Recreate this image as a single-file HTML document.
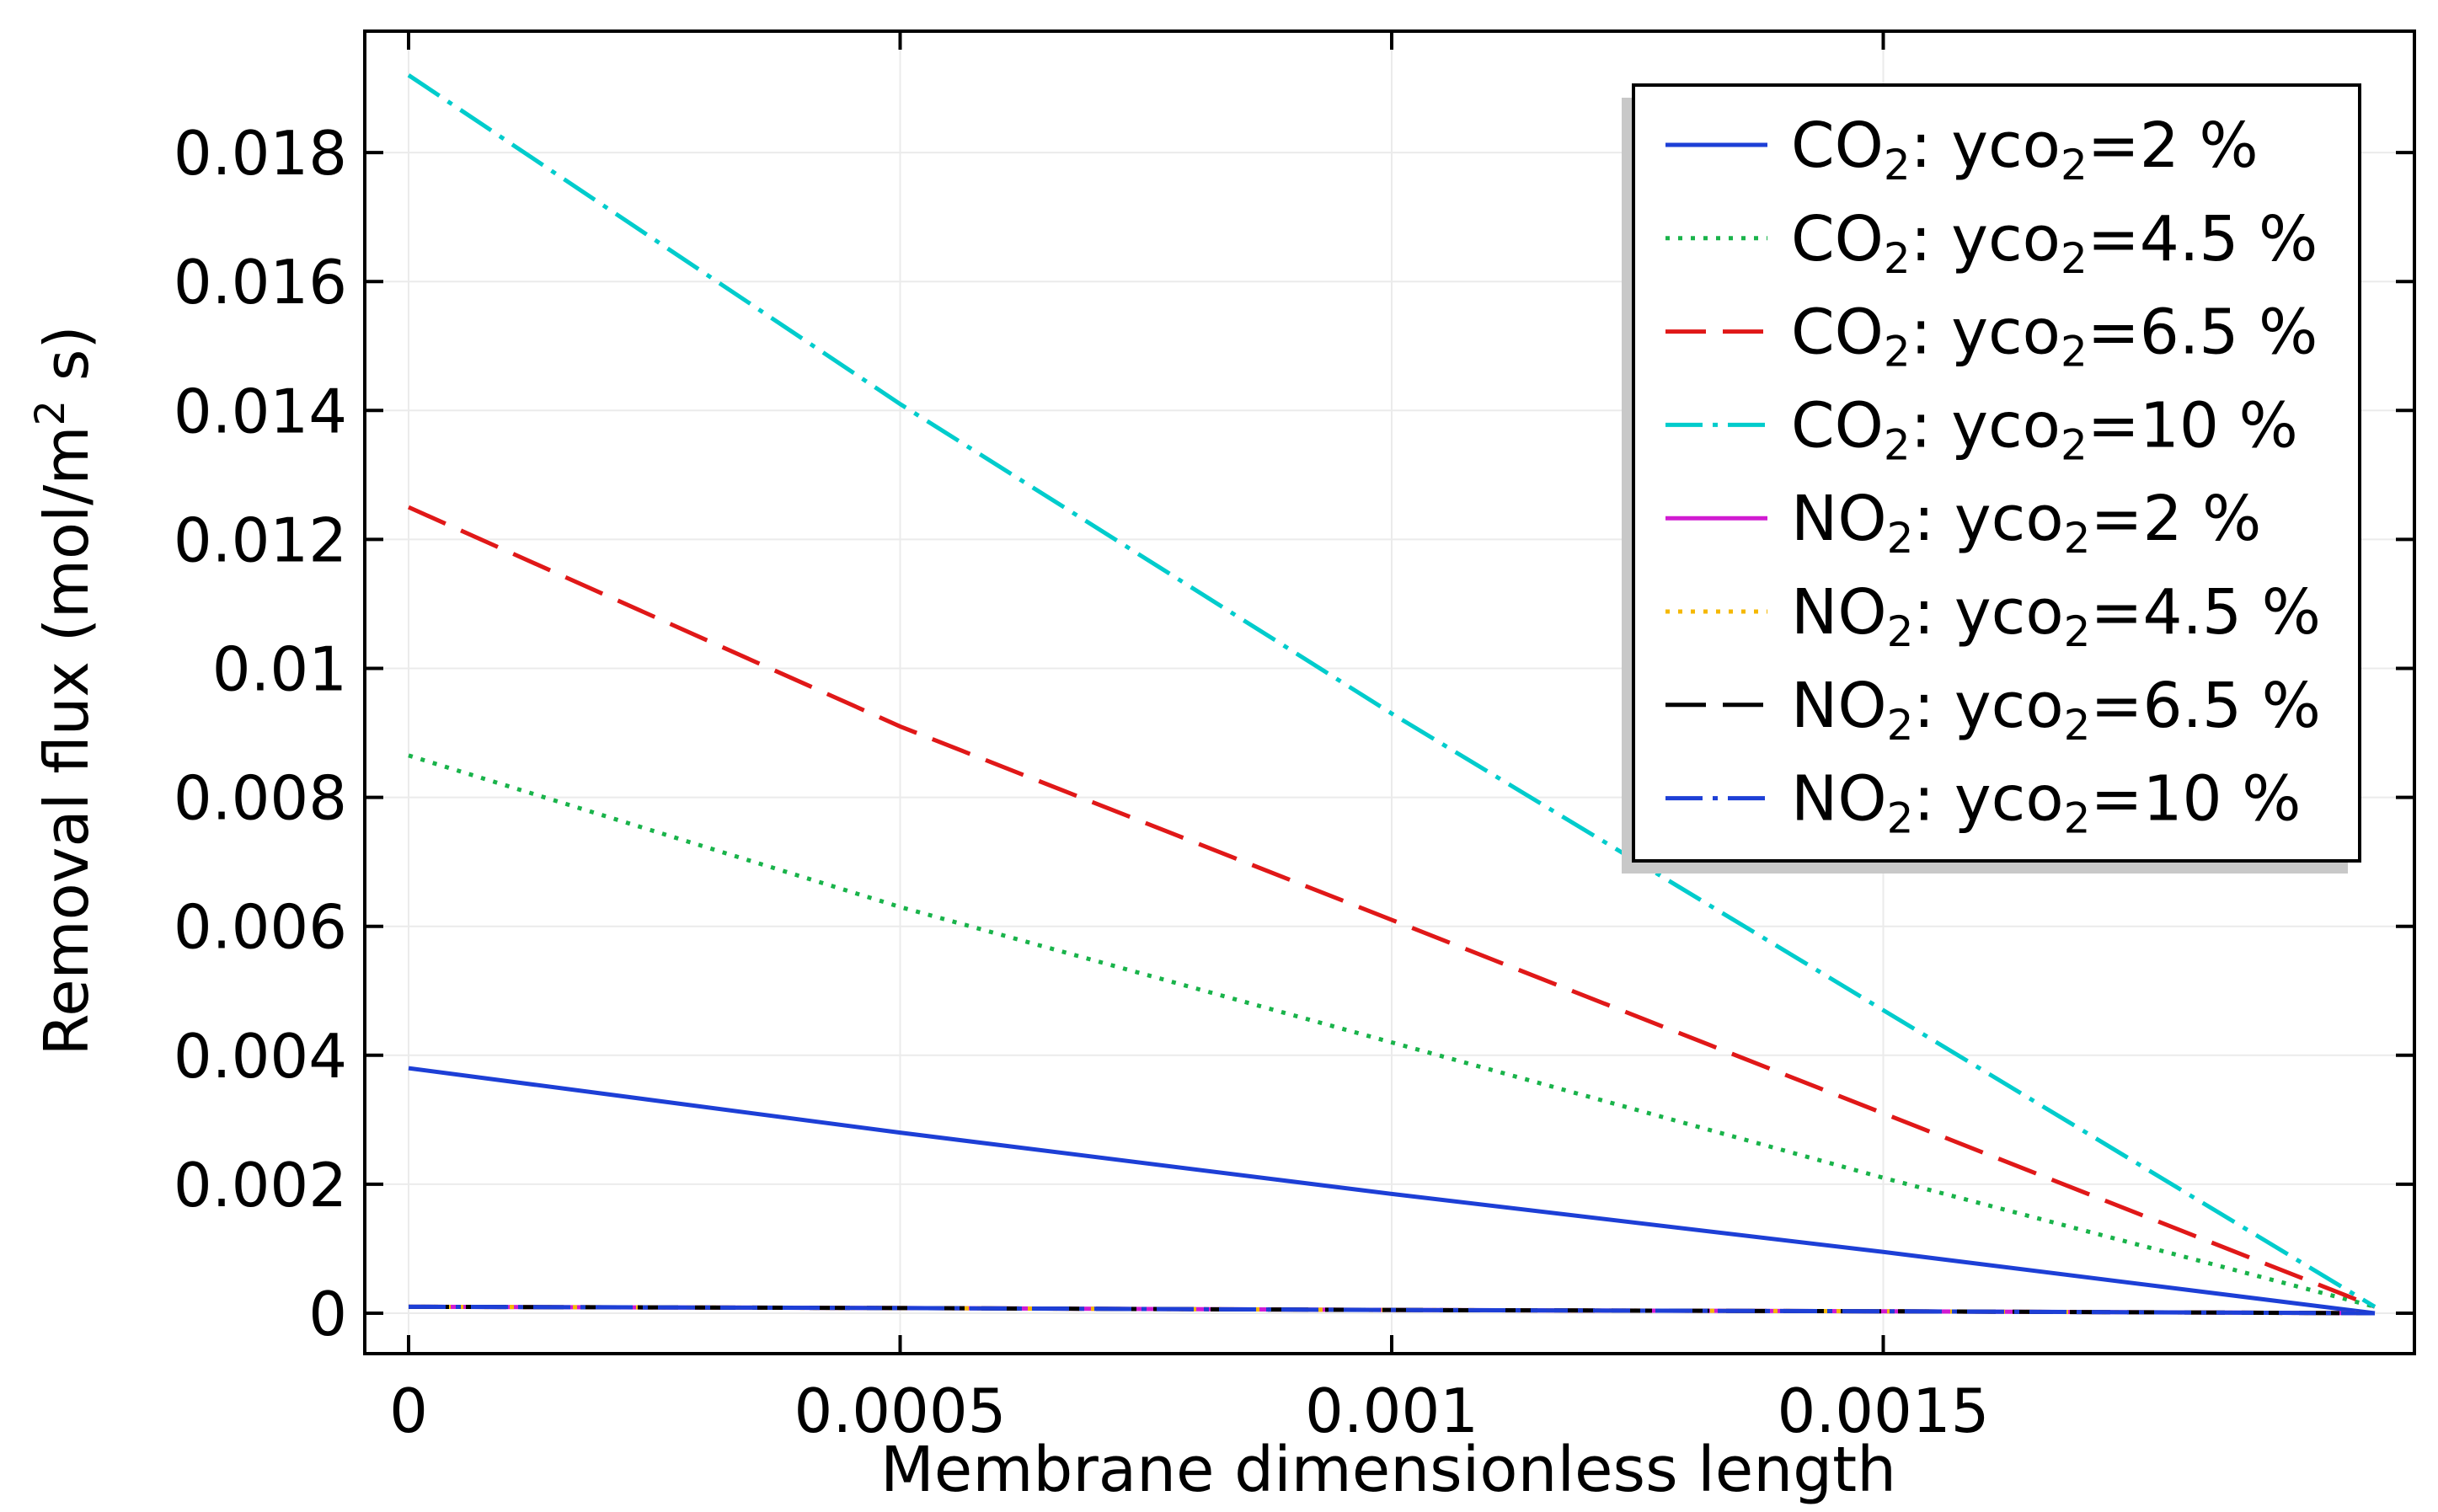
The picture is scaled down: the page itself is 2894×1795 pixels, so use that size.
<!DOCTYPE html>
<html><head><meta charset="utf-8"><style>
html,body{margin:0;padding:0;background:#fff}
svg{display:block}
text{font-family:"DejaVu Sans","Liberation Sans",sans-serif;fill:#000}
</style></head><body>
<svg id="chart" width="2894" height="1795" viewBox="0 0 2894 1795" xmlns="http://www.w3.org/2000/svg">
<g id="grid"></g>
<g id="series"></g>
<rect x="433" y="37" width="2433" height="1570" fill="none" stroke="#000" stroke-width="4"/>
<g id="ticks"></g>
<text transform="translate(104,820) rotate(-90)" text-anchor="middle" font-size="72">Removal flux (mol/m<tspan font-size="48" dy="-28">2</tspan><tspan dy="28"> s)</tspan></text>
<text x="1648" y="1770" text-anchor="middle" font-size="74">Membrane dimensionless length</text>
<g id="legend"></g>
</svg>
<script>
const xTicks=[0,0.0005,0.001,0.0015];
const xTickLabels=["0","0.0005","0.001","0.0015"];
const yTicks=[0,0.002,0.004,0.006,0.008,0.01,0.012,0.014,0.016,0.018];
const yTickLabels=["0","0.002","0.004","0.006","0.008","0.01","0.012","0.014","0.016","0.018"];
const xs=[0,0.0005,0.001,0.0015,0.002];
const co2_2=[0.0038,0.0028,0.00185,0.00095,0];
const co2_45=[0.00865,0.0063,0.0042,0.0021,0.0001];
const co2_65=[0.0125,0.0091,0.0061,0.0031,0.0001];
const co2_10=[0.0192,0.0141,0.0093,0.0047,0.0001];
const no2_2=[0.0001,0.00008,0.00005,0.00003,0];
const no2_45=[0.0001,0.00008,0.00005,0.00003,0];
const no2_65=[0.0001,0.00008,0.00005,0.00003,0];
const no2_10=[0.0001,0.00008,0.00005,0.00003,0];
const labels=["CO","CO","CO","CO","NO","NO","NO","NO"];
const pcts=["2","4.5","6.5","10","2","4.5","6.5","10"];
const NS="http://www.w3.org/2000/svg";
const X=v=>485+v/0.0005*583.5;
const Y=v=>1559-v/0.002*153.1;
function mk(t,a,p){const e=document.createElementNS(NS,t);for(const k in a)e.setAttribute(k,a[k]);p.appendChild(e);return e;}
const grid=document.getElementById('grid'),ticks=document.getElementById('ticks');
xTicks.forEach((v,i)=>{
 const g=mk('line',{x1:X(v),x2:X(v),y1:37,y2:1607,stroke:'#ebebeb','stroke-width':2},grid);
 
 
 [[1607,1585],[37,59]].forEach(([a,b])=>{const t=mk('line',{x1:X(v),x2:X(v),y1:a,y2:b,stroke:'#000','stroke-width':4},ticks);
 
 });
 const l=mk('text',{x:X(v),y:1700,'text-anchor':'middle','font-size':72},ticks);l.textContent=xTickLabels[i];
 
 
});
yTicks.forEach((v,i)=>{
 const g=mk('line',{x1:433,x2:2866,y1:Y(v),y2:Y(v),stroke:'#ebebeb','stroke-width':2},grid);
 
 
 [[433,455],[2866,2844]].forEach(([a,b])=>{const t=mk('line',{x1:a,x2:b,y1:Y(v),y2:Y(v),stroke:'#000','stroke-width':4},ticks);
 
 });
 const l=mk('text',{x:412,y:Y(v)+26,'text-anchor':'end','font-size':72},ticks);l.textContent=yTickLabels[i];
 
 
});
const styles=[
 {c:'#1d3fd6',d:''},{c:'#19b34a',d:'5 10'},{c:'#e01818',d:'48 20'},{c:'#00cccc',d:'44 12 6 12'},
 {c:'#d11bd1',d:''},{c:'#f5b800',d:'5 10'},{c:'#000',d:'48 20'},{c:'#1d3fd6',d:'44 12 6 12'}];
const data=[co2_2,co2_45,co2_65,co2_10,no2_2,no2_45,no2_65,no2_10];
const sg=document.getElementById('series');
data.forEach((arr,i)=>{
 const p=mk('polyline',{points:arr.map((v,j)=>X(xs[j])+','+Y(v)).join(' '),fill:'none',stroke:styles[i].c,'stroke-width':5,'stroke-dasharray':styles[i].d},sg);
 
 
});
const lg=document.getElementById('legend');
const sh=mk('rect',{x:1925,y:116,width:862,height:921,fill:'#c8c8c8'},lg);


const bx=mk('rect',{x:1939,y:101,width:862,height:921,fill:'#fff',stroke:'#000','stroke-width':4},lg);


labels.forEach((lb,i)=>{
 const y=172+i*110.8;
 const ln=mk('line',{x1:1977,x2:2098,y1:y,y2:y,stroke:styles[i].c,'stroke-width':5,'stroke-dasharray':styles[i].d},lg);
 
 
 const t=mk('text',{x:2126,y:y+26,'font-size':74},lg);
 t.innerHTML=lb+'<tspan font-size="50" dy="15">2</tspan><tspan dy="-15">: yco</tspan><tspan font-size="50" dy="15">2</tspan><tspan dy="-15">='+pcts[i]+' %</tspan>';
 
 
});
</script>
</body></html>
